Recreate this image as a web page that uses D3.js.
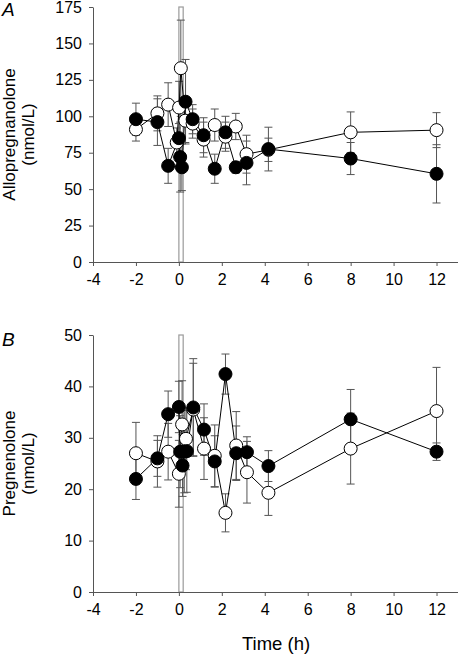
<!DOCTYPE html>
<html><head><meta charset="utf-8">
<script src="https://cdn.jsdelivr.net/npm/d3@7"></script>
<style>
html,body{margin:0;padding:0;background:#fff;}
svg{display:block;font-family:"Liberation Sans",Arial,sans-serif;}
</style></head>
<body>
<svg id="c" width="458" height="659"></svg>
<script>
// ---- Data ----
const xTicks = [-4,-2,0,2,4,6,8,10,12];
const yTicksA = [0,25,50,75,100,125,150,175];
const yTicksB = [0,10,20,30,40,50];
const infusion = [0, 0.2];

// Panel A – Allopregnanolone
const tA_filled = [-2,-1,-0.5,0,0.06,0.14,0.31,0.64,1.15,1.67,2.17,2.65,3.15,4.17,8,12];
const vA_filled = [98,96,66,85,72,65,110,98,87,64,89,65,68,77.5,71,60.5];
const eA_filled = [11,16,12,10,24,16,29,10,12,10,11,4,15,15,11,20];
const tA_open = [-2,-1,-0.5,-0.1,0.01,0.09,0.3,0.64,1.15,1.67,2.17,2.65,3.15,4.17,8,12];
const vA_open = [91,102,108,82,106,133,97,95,84,94,86,93,74,77,89,90.5];
const eA_open = [8,12,15,10,18,33,15,10,12,11,10,9,13,8,14,12];

// Panel B – Pregnenolone
const tB_filled = [-2,-1,-0.5,0,0.06,0.17,0.25,0.37,0.67,1.17,1.67,2.17,2.67,3.17,4.17,8,12];
const vB_filled = [22,26,34.6,36,27.3,24.6,27.3,27.4,35.9,31.6,25.4,42.4,27,27.2,24.5,33.6,27.3];
const eB_filled = [4,3.5,4.5,5,7,6,8,8,9.5,5,5,3.9,5.3,3,3,5.8,1.7];
const tB_open = [-2,-1,-0.5,0,0.15,0.33,0.67,1.17,1.67,2.17,2.67,3.17,4.17,8,12];
const vB_open = [27,25.4,27.3,23,32.6,29.8,35.5,27.9,26.5,15.4,28.5,23.3,19.3,27.9,35.2];
const eB_open = [6,5,5.5,6.5,8.5,6,9,6,6,3.7,6.6,6,4.4,6.9,8.5];

const svg = d3.select("#c");
const x = d3.scaleLinear().domain([-4,13]).range([93,458]);

function panel(cfg){
  const y = d3.scaleLinear().domain([0,cfg.ymax]).range([cfg.bottom,cfg.top]);
  const g = svg.append("g");
  g.append("rect")
    .attr("x", x(infusion[0])).attr("y", y(cfg.ymax))
    .attr("width", x(infusion[1]) - x(infusion[0]))
    .attr("height", y(0) - y(cfg.ymax))
    .attr("fill", "#fff").attr("stroke", "#9a9a9a").attr("stroke-width", 1.2);

  const xa = g.append("g").attr("transform", `translate(0,${y(0)})`)
    .call(d3.axisBottom(x).tickValues(xTicks).tickFormat(d=>String(d)).tickSize(4).tickSizeOuter(0).tickPadding(8));
  const ya = g.append("g").attr("transform", `translate(${x(-4)},0)`)
    .call(d3.axisLeft(y).tickValues(cfg.yticks).tickFormat(d=>String(d)).tickSize(4).tickSizeOuter(0).tickPadding(7));
  [xa,ya].forEach(a=>{
    a.select(".domain").attr("stroke","#555");
    a.selectAll(".tick line").attr("stroke","#555");
    a.selectAll("text").attr("font-size",16).attr("fill","#000")
      .attr("font-family","Liberation Sans, Arial, sans-serif");
  });

  const lab = g.append("text")
    .attr("transform", `translate(15,${(cfg.top+cfg.bottom)/2}) rotate(-90)`)
    .attr("text-anchor","middle").attr("font-size",17).attr("fill","#000");
  lab.append("tspan").attr("x",0).attr("dy",0).text(cfg.label);
  lab.append("tspan").attr("x",0).attr("dy",18.5).text("(nmol/L)");

  g.append("text").attr("x",2).attr("y",cfg.letterY)
    .attr("font-size",19).attr("font-style","italic").attr("fill","#000").text(cfg.letter);

  const line = d3.line().x(d=>x(d.t)).y(d=>y(d.v));
  cfg.series.forEach(s=>{
    const data = s.t.map((t,i)=>({t, v:s.v[i], e:s.e[i]}));
    const eg = g.append("g").attr("stroke","#555").attr("stroke-width",1);
    data.forEach(d=>{
      eg.append("line").attr("x1",x(d.t)).attr("x2",x(d.t)).attr("y1",y(d.v-d.e)).attr("y2",y(d.v+d.e));
      eg.append("line").attr("x1",x(d.t)-4).attr("x2",x(d.t)+4).attr("y1",y(d.v-d.e)).attr("y2",y(d.v-d.e));
      eg.append("line").attr("x1",x(d.t)-4).attr("x2",x(d.t)+4).attr("y1",y(d.v+d.e)).attr("y2",y(d.v+d.e));
    });
    g.append("path").datum(data).attr("d",line).attr("fill","none").attr("stroke","#000").attr("stroke-width",1);
    s.data = data;
  });
  cfg.series.forEach(s=>{
    g.append("g").selectAll("circle").data(s.data).join("circle")
      .attr("cx",d=>x(d.t)).attr("cy",d=>y(d.v)).attr("r",6.5)
      .attr("fill",s.fill).attr("stroke","#000").attr("stroke-width",1);
  });
}

panel({top:7,bottom:262,ymax:175,yticks:yTicksA,label:"Allopregnanolone",letter:"A",letterY:16,
  series:[{t:tA_open,v:vA_open,e:eA_open,fill:"#fff"},{t:tA_filled,v:vA_filled,e:eA_filled,fill:"#000"}]});
panel({top:335,bottom:592,ymax:50,yticks:yTicksB,label:"Pregnenolone",letter:"B",letterY:346,
  series:[{t:tB_open,v:vB_open,e:eB_open,fill:"#fff"},{t:tB_filled,v:vB_filled,e:eB_filled,fill:"#000"}]});

svg.append("text").attr("x",276).attr("y",650).attr("text-anchor","middle")
  .attr("font-size",18.5).attr("fill","#000").text("Time (h)");
</script>
</body></html>
